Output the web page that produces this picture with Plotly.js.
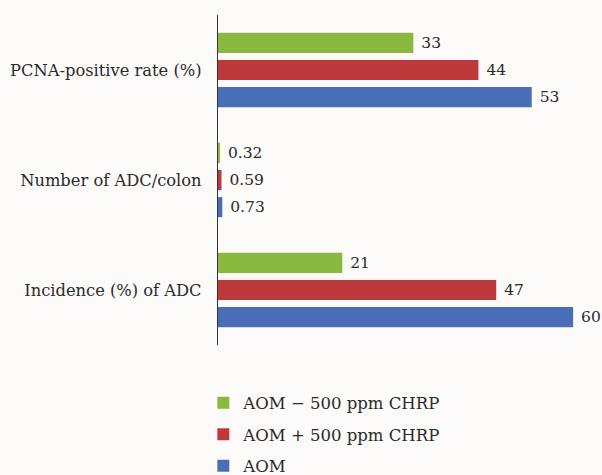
<!DOCTYPE html>
<html>
<head>
<meta charset="utf-8">
<script src="https://cdn.plot.ly/plotly-3.0.1.min.js"></script>
<style>html,body{margin:0;padding:0;background:#fdfbf9;}</style>
</head>
<body>
<div id="chart" style="width:602px;height:475px;"></div>
<script>
const categories = ["Incidence (%) of ADC", "Number of ADC/colon", "PCNA-positive rate (%)"];
const aom = [60, 0.73, 53];
const aomPlusChrp = [47, 0.59, 44];
const aomMinusChrp = [21, 0.32, 33];
const seriesNames = ["AOM", "AOM + 500 ppm CHRP", "AOM \u2212 500 ppm CHRP"];
const colors = ["#4a6db8", "#be393c", "#8bb83f"];
const series = [aom, aomPlusChrp, aomMinusChrp];

const font = "DejaVu Serif";
const traces = series.map((vals, i) => ({
  type: "bar",
  orientation: "h",
  name: seriesNames[i],
  legendgroup: "g" + i,
  legendrank: 1000 - i,
  y: categories,
  x: vals,
  marker: {color: colors[i]},
  text: vals.map(v => " " + v),
  textposition: "outside",
  textfont: {family: font, size: 15.5, color: "#2a2a2a"},
  cliponaxis: false
}));

const layout = {
  width: 602, height: 475,
  margin: {l: 218, r: 17, t: 15, b: 130, autoexpand: false},
  paper_bgcolor: "#fdfbf9",
  plot_bgcolor: "rgba(0,0,0,0)",
  barmode: "group",
  bargap: 0.26,
  bargroupgap: 0.26,
  showlegend: true,
  legend: {
    x: -0.04, xanchor: "left", y: -0.123, yanchor: "top",
    traceorder: "grouped", tracegroupgap: 7,
    font: {family: font, size: 16.5, color: "#2a2a2a"},
    bgcolor: "rgba(0,0,0,0)"
  },
  xaxis: {
    range: [0, 62], showgrid: false, zeroline: false, showline: false,
    showticklabels: false, ticks: ""
  },
  yaxis: {
    range: [-0.5, 2.5], showgrid: false, zeroline: false,
    showline: true, linecolor: "#333", linewidth: 1.3,
    ticks: "", ticklabelstandoff: 12,
    tickfont: {family: font, size: 16.3, color: "#2a2a2a"}
  }
};

Plotly.newPlot("chart", traces, layout, {displayModeBar: false});
</script>
</body>
</html>
